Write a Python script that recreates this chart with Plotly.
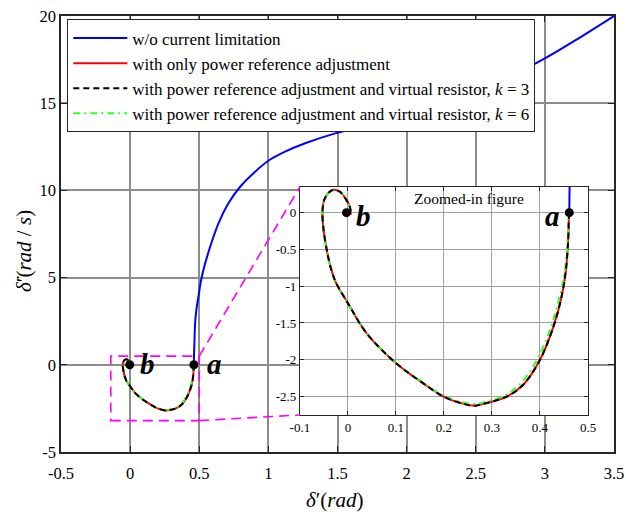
import plotly.graph_objects as go

# ---- data ----
# trajectory w/o current limitation (blue)
blue_x = [0.461, 0.462, 0.466, 0.470, 0.480, 0.494, 0.510, 0.530, 0.579, 0.639, 0.711, 0.796, 0.904, 1.0,
          1.121, 1.266, 1.483, 1.676, 1.868, 2.1, 2.4, 2.7, 3.0, 3.25, 3.5]
blue_y = [0.0, 0.5, 1.5, 2.38, 3.2, 3.9, 4.7, 5.44, 6.77, 8.11, 9.26, 10.21, 11.07, 11.70,
          12.22, 12.70, 13.27, 13.65, 14.04, 14.55, 15.35, 16.35, 17.57, 18.75, 20.0]

# with only power reference adjustment (red)
red_x = [0.461, 0.460, 0.459, 0.454, 0.445, 0.428, 0.400, 0.365, 0.331, 0.282, 0.265, 0.247, 0.199,
         0.157, 0.101, 0.039, 0.000, -0.027, -0.044, -0.053, -0.048, -0.032, -0.017, -0.003, 0.004, 0.006]
red_y = [0.0, -0.10, -0.33, -0.78, -1.14, -1.55, -2.00, -2.34, -2.50, -2.60, -2.625, -2.61, -2.50,
         -2.32, -2.05, -1.64, -1.23, -0.92, -0.51, -0.01, 0.195, 0.309, 0.286, 0.17, 0.08, -0.03]

# with power reference adjustment and virtual resistor, k = 3 (black)
k3_x = [0.461, 0.460, 0.459, 0.454, 0.445, 0.428, 0.400, 0.365, 0.331, 0.282, 0.265, 0.247, 0.199,
        0.157, 0.101, 0.039, 0.000, -0.027, -0.044, -0.053, -0.048, -0.032, -0.017, -0.003, 0.004, 0.006]
k3_y = [0.0, -0.10, -0.33, -0.78, -1.14, -1.55, -2.00, -2.34, -2.50, -2.60, -2.625, -2.61, -2.50,
        -2.32, -2.05, -1.64, -1.23, -0.92, -0.51, -0.01, 0.195, 0.309, 0.286, 0.17, 0.08, -0.03]

# with power reference adjustment and virtual resistor, k = 6 (green)
k6_x = [0.461, 0.460, 0.458, 0.452, 0.441, 0.423, 0.394, 0.360, 0.328, 0.282, 0.265, 0.247, 0.199,
        0.157, 0.101, 0.039, 0.000, -0.027, -0.044, -0.053, -0.048, -0.032, -0.017, -0.003, 0.004, 0.006]
k6_y = [0.0, -0.10, -0.33, -0.78, -1.14, -1.55, -2.00, -2.32, -2.48, -2.58, -2.60, -2.59, -2.49,
        -2.31, -2.05, -1.64, -1.23, -0.92, -0.51, -0.01, 0.195, 0.309, 0.286, 0.17, 0.08, -0.03]

# equilibrium points
pt_a = (0.461, 0.0)
pt_b = (-0.003, 0.0)

# tick labels
main_xticks = [-0.5, 0, 0.5, 1, 1.5, 2, 2.5, 3, 3.5]
main_xlabels = ["-0.5", "0", "0.5", "1", "1.5", "2", "2.5", "3", "3.5"]
main_yticks = [-5, 0, 5, 10, 15, 20]
main_ylabels = ["-5", "0", "5", "10", "15", "20"]
ins_xticks = [-0.1, 0, 0.1, 0.2, 0.3, 0.4, 0.5]
ins_xlabels = ["-0.1", "0", "0.1", "0.2", "0.3", "0.4", "0.5"]
ins_yticks = [-2.5, -2, -1.5, -1, -0.5, 0]
ins_ylabels = ["-2.5", "-2", "-1.5", "-1", "-0.5", "0"]

names = ["w/o current limitation",
         "with only power reference adjustment",
         "with power reference adjustment and virtual resistor, <i>k</i> = 3",
         "with power reference adjustment and virtual resistor, <i>k</i> = 6"]

# zoom box (main coords) and inset placement
box_x = [-0.14, 0.5]
box_y = [-3.2, 0.5]
main_xr = [-0.5, 3.5]
main_yr = [-5, 20]
ins_dx = [0.432, 0.953]
ins_dy = [0.085, 0.608]
ins_xr = [-0.1, 0.5]
ins_yr = [-2.75, 0.35]

FONT = "Liberation Serif"
BLUE = "#0000FF"
RED = "#FF0000"
BLACK = "#000000"
GREEN = "#33FF33"
MAG = "#FF00FF"

fig = go.Figure()

for xa, ya, show in [("x", "y", True), ("x2", "y2", False)]:
    fig.add_trace(go.Scatter(x=blue_x, y=blue_y, mode="lines", name=names[0], xaxis=xa, yaxis=ya,
                             legendrank=1,
                             line=dict(color=BLUE, width=2, shape="spline"), showlegend=show))
    fig.add_trace(go.Scatter(x=red_x, y=red_y, mode="lines", name=names[1], xaxis=xa, yaxis=ya,
                             legendrank=2,
                             line=dict(color=RED, width=2, shape="spline"), showlegend=show))
    fig.add_trace(go.Scatter(x=k6_x, y=k6_y, mode="lines", name=names[3], xaxis=xa, yaxis=ya,
                             legendrank=4,
                             line=dict(color=GREEN, width=2, dash="7px,4px,2px,4px", shape="spline"),
                             showlegend=show))
    fig.add_trace(go.Scatter(x=k3_x, y=k3_y, mode="lines", name=names[2], xaxis=xa, yaxis=ya,
                             legendrank=3,
                             line=dict(color=BLACK, width=2, dash="6px,4px", shape="spline"), showlegend=show))
    fig.add_trace(go.Scatter(x=[pt_a[0], pt_b[0]], y=[pt_a[1], pt_b[1]], mode="markers", xaxis=xa, yaxis=ya,
                             marker=dict(color=BLACK, size=9), showlegend=False, hoverinfo="skip"))

# inset corners in main-axis coordinates
ix0 = main_xr[0] + (main_xr[1] - main_xr[0]) * ins_dx[0]
iy0 = main_yr[0] + (main_yr[1] - main_yr[0]) * ins_dy[0]
iy1 = main_yr[0] + (main_yr[1] - main_yr[0]) * ins_dy[1]

mline = dict(color=MAG, width=1.6, dash="10px,6px")
shapes = [
    dict(type="rect", xref="x", yref="y", x0=box_x[0], x1=box_x[1], y0=box_y[0], y1=box_y[1],
         line=mline, layer="above"),
    dict(type="line", xref="x", yref="y", x0=box_x[1], y0=box_y[1], x1=ix0, y1=iy1, line=mline, layer="above"),
    dict(type="line", xref="x", yref="y", x0=box_x[1], y0=box_y[0], x1=ix0, y1=iy0, line=mline, layer="above"),
]

lab_font = dict(family=FONT, size=29, color=BLACK)
annotations = [
    dict(x=pt_b[0], y=pt_b[1], xref="x", yref="y", text="<b><i>b</i></b>", showarrow=False,
         xanchor="left", yanchor="middle", xshift=8, yshift=1, font=lab_font),
    dict(x=pt_a[0], y=pt_a[1], xref="x", yref="y", text="<b><i>a</i></b>", showarrow=False,
         xanchor="left", yanchor="middle", xshift=11, yshift=1, font=lab_font),
    dict(x=pt_b[0], y=pt_b[1], xref="x2", yref="y2", text="<b><i>b</i></b>", showarrow=False,
         xanchor="left", yanchor="middle", xshift=8, yshift=-3, font=lab_font),
    dict(x=pt_a[0], y=pt_a[1], xref="x2", yref="y2", text="<b><i>a</i></b>", showarrow=False,
         xanchor="right", yanchor="middle", xshift=-7, yshift=-3, font=lab_font),
    dict(x=0.252, y=0.196, xref="x2", yref="y2", text="Zoomed-in figure", showarrow=False,
         xanchor="center", yanchor="middle", font=dict(family=FONT, size=15.5, color=BLACK)),
    dict(x=0.495, y=-0.11, xref="paper", yref="paper", text="<i>δ</i>′(<i>rad</i>)", showarrow=False,
         xanchor="center", yanchor="middle", font=dict(family=FONT, size=21, color=BLACK)),
    dict(x=-0.066, y=0.46, xref="paper", yref="paper", text="<i>δ̇</i>′(<i>rad</i> / <i>s</i>)",
         showarrow=False, textangle=-90, xanchor="center", yanchor="middle",
         font=dict(family=FONT, size=21, color=BLACK)),
]

axis_common = dict(showline=True, linecolor="#262626", mirror="ticks", ticks="inside",
                   tickcolor="#262626", zeroline=False, showgrid=True, automargin=False)

fig.update_layout(
    width=626, height=512,
    margin=dict(l=61, r=12, t=16, b=60, pad=0, autoexpand=False),
    paper_bgcolor="white", plot_bgcolor="white",
    font=dict(family=FONT, color=BLACK),
    xaxis=dict(range=main_xr, tickvals=main_xticks, ticktext=main_xlabels, domain=[0, 1],
               gridcolor="#8c8c8c", gridwidth=1.5, linewidth=1.5, ticklen=6, ticklabelstandoff=5,
               tickfont=dict(family=FONT, size=16.5, color=BLACK), **axis_common),
    yaxis=dict(range=main_yr, tickvals=main_yticks, ticktext=main_ylabels, domain=[0, 1],
               gridcolor="#8c8c8c", gridwidth=1.5, linewidth=1.5, ticklen=6,
               tickfont=dict(family=FONT, size=16.5, color=BLACK), **axis_common),
    xaxis2=dict(range=ins_xr, tickvals=ins_xticks, ticktext=ins_xlabels, domain=ins_dx, anchor="y2",
                gridcolor="#a0a0a0", gridwidth=1, linewidth=1, ticklen=4,
                tickfont=dict(family=FONT, size=13, color=BLACK), **axis_common),
    yaxis2=dict(range=ins_yr, tickvals=ins_yticks, ticktext=ins_ylabels, domain=ins_dy, anchor="x2",
                gridcolor="#a0a0a0", gridwidth=1, linewidth=1, ticklen=4,
                tickfont=dict(family=FONT, size=13, color=BLACK), **axis_common),
    legend=dict(x=0.0114, y=0.992, xanchor="left", yanchor="top", bgcolor="white",
                bordercolor="#262626", borderwidth=1, font=dict(family=FONT, size=17, color=BLACK),
                itemwidth=54, tracegroupgap=0),
    shapes=shapes,
    annotations=annotations,
    showlegend=True,
)

fig.write_html("out.html", config={"displayModeBar": False},
               post_script="document.body.style.margin='0';document.body.style.overflow='hidden';")
